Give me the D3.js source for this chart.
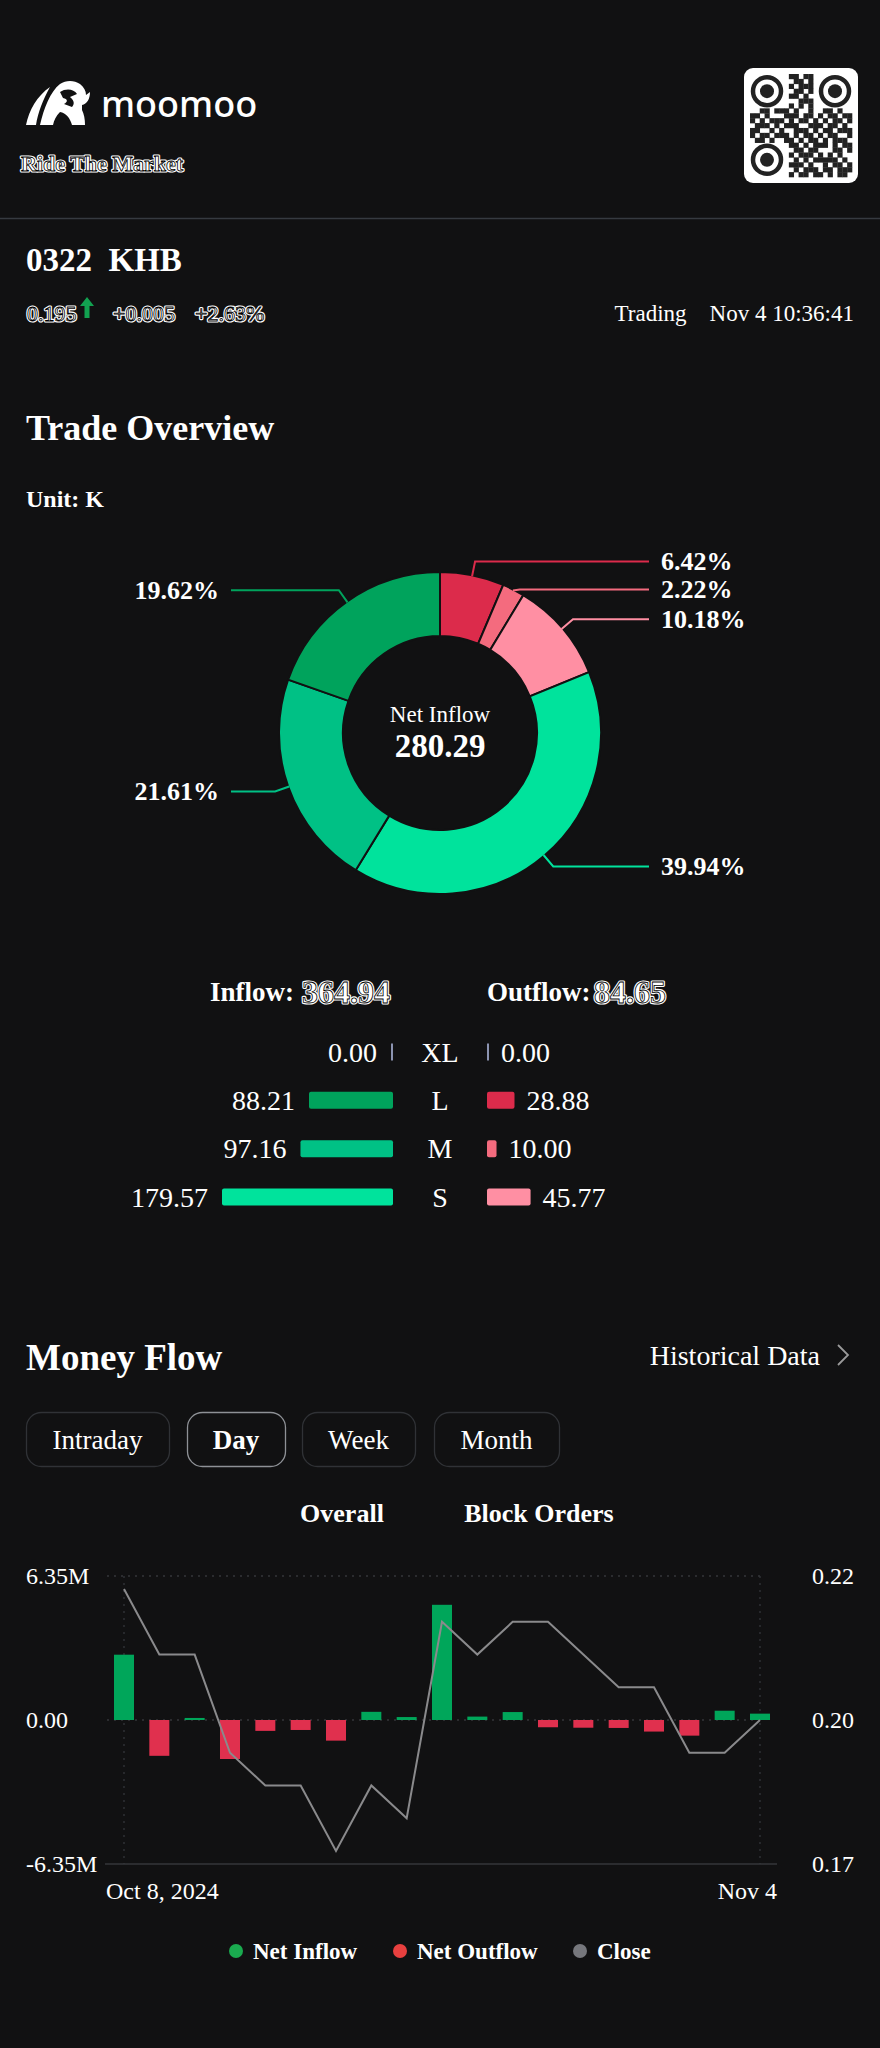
<!DOCTYPE html>
<html><head><meta charset="utf-8">
<script src="https://cdn.jsdelivr.net/npm/d3@7"></script>
<style>html,body{margin:0;padding:0;background:#111112;}svg{display:block}</style>
</head><body><svg id="c" width="880" height="2048"></svg>
<script>
// ---------------- data ----------------
const ticker = "0322  KHB";
const price = "0.195", change = "+0.005", changePct = "+2.63%";
const statusText = "Trading    Nov 4 10:36:41";
const sizes = ["XL", "L", "M", "S"];
const inflowValues = [0.00, 88.21, 97.16, 179.57];
const outflowValues = [0.00, 28.88, 10.00, 45.77];
const inflowTotal = "364.94", outflowTotal = "84.65", netInflow = "280.29";
const tabs = ["Intraday", "Day", "Week", "Month"];
const subTabs = ["Overall", "Block Orders"];
const dates = ["Oct 8, 2024","Oct 9","Oct 10","Oct 14","Oct 15","Oct 16","Oct 17","Oct 18","Oct 21","Oct 22","Oct 23","Oct 24","Oct 25","Oct 28","Oct 29","Oct 30","Oct 31","Nov 1","Nov 4"];
const netFlowM = [2.88,-1.58,0.09,-1.72,-0.48,-0.44,-0.91,0.36,0.13,5.08,0.15,0.35,-0.32,-0.34,-0.35,-0.51,-0.69,0.41,0.28];
const closes = [0.215,0.205,0.205,0.190,0.185,0.185,0.175,0.185,0.180,0.210,0.205,0.210,0.210,0.205,0.200,0.200,0.190,0.190,0.195];
const leftTickValues = [6.35, 0, -6.35];
const leftTickLabels = ["6.35M", "0.00", "-6.35M"];
const rightTickValues = [0.217, 0.195, 0.173];
const rightTickLabels = ["0.22", "0.20", "0.17"];
const xTickLabels = ["Oct 8, 2024", "Nov 4"];
const legendItems = ["Net Inflow", "Net Outflow", "Close"];

// ---------------- setup ----------------
const svg = d3.select("#c");
const SERIF = "'Liberation Serif', 'Times New Roman', serif";
const BG = "#111112";
svg.append("rect").attr("width", 880).attr("height", 2048).attr("fill", BG);

function txt(x, y, s, size, opts = {}) {
  return svg.append("text").attr("x", x).attr("y", y).text(s)
    .attr("font-family", opts.family || SERIF)
    .attr("font-size", size)
    .attr("font-weight", opts.weight || "normal")
    .attr("fill", opts.fill || "#fff")
    .attr("text-anchor", opts.anchor || "start")
    .attr("dominant-baseline", opts.baseline || "central");
}
function outlined(x, y, s, size, opts = {}) {
  txt(x, y, s, size, opts).attr("stroke", "#fff").attr("stroke-width", 3.2).attr("stroke-linejoin", "round");
  return txt(x, y, s, size, opts).attr("stroke", "#000").attr("stroke-width", 0.8);
}

// ---------------- header ----------------
const logo = svg.append("g").attr("fill", "#fff");
logo.append("path").attr("d", "M40 125 C44 108 50 92 60 84 C66 80 74 80 80 84 C84 87 86 91 86 95 L90 92 C90 99 87 104 82 105 L82 110 C84 114 85 119 85 125 L72 125 C70 118 66 113 60 112 C56 116 54 120 53 125 Z");
logo.append("path").attr("d", "M26 125 C29 110 37 96 50 87 C43 100 38 112 36 125 Z");
logo.append("path").attr("d", "M60 92 C66 88 74 89 77 94 L70 97 C74 100 75 104 72 107 L64 104 C68 102 68 99 63 98 Z").attr("fill", BG);
txt(101, 117, "moomoo", 36, { family: "'Noto Sans', Inter, sans-serif", weight: 500, baseline: "auto" });
outlined(21, 171, "Ride The Market", 22, { weight: "bold", baseline: "auto" });

// QR code
const qr = svg.append("g");
qr.append("rect").attr("x", 744).attr("y", 68).attr("width", 114).attr("height", 115).attr("rx", 9).attr("fill", "#fff");
const qrRows = [
  "000000001101100000000",
  "000000000110100000000",
  "000000001011100000000",
  "000000000110100000000",
  "000000001101000000000",
  "000000000011100000000",
  "000000001010100000000",
  "001101110100100110100",
  "110100011101101011011",
  "101011101011010101101",
  "011101011100111011010",
  "110010100111010110111",
  "101101110101101011001",
  "011010011010110101110",
  "000000001101011101011",
  "000000000110110001101",
  "000000001011101010100",
  "000000000101011111010",
  "000000001110100101101",
  "000000000101110110111",
  "000000001011011010110"
];
const qrX = d3.scaleBand().domain(d3.range(21)).range([750, 852]);
const qrY = d3.scaleBand().domain(d3.range(21)).range([74, 177]);
qrRows.forEach((row, r) => row.split("").forEach((b, c) => {
  if (b === "1") qr.append("rect").attr("x", qrX(c)).attr("y", qrY(r)).attr("width", qrX.bandwidth() + 0.3).attr("height", qrY.bandwidth() + 0.3).attr("fill", "#222");
}));
[[0, 0], [14, 0], [0, 14]].forEach(([c, r]) => {
  const cx = qrX(c) + qrX.bandwidth() * 3.5, cy = qrY(r) + qrY.bandwidth() * 3.5;
  qr.append("circle").attr("cx", cx).attr("cy", cy).attr("r", 14).attr("fill", "none").attr("stroke", "#222").attr("stroke-width", 4.5);
  qr.append("circle").attr("cx", cx).attr("cy", cy).attr("r", 7).attr("fill", "#222");
});

svg.append("line").attr("x1", 0).attr("x2", 880).attr("y1", 218.5).attr("y2", 218.5).attr("stroke", "#363a40").attr("stroke-width", 1.5);

txt(26, 271, ticker, 33, { weight: "bold", baseline: "auto" }).style("white-space", "pre");
outlined(27, 321, price, 22, { baseline: "auto" });
svg.append("path").attr("d", "M87 297 L94 306 L89.5 306 L89.5 318 L84.5 318 L84.5 306 L80 306 Z").attr("fill", "#12a150");
outlined(113, 321, change, 22, { baseline: "auto" });
outlined(195, 321, changePct, 22, { baseline: "auto" });
txt(854, 321, statusText, 23, { anchor: "end", baseline: "auto" }).style("white-space", "pre");

// ---------------- trade overview ----------------
txt(26, 440, "Trade Overview", 36, { weight: "bold", baseline: "auto" });
txt(26, 507, "Unit: K", 24, { weight: "bold", baseline: "auto" });

const outColors = { XL: "#8b93b0", L: "#dc2b4b", M: "#f46b7e", S: "#ff8fa3" };
const inColors = { XL: "#8b93b0", L: "#00a35c", M: "#00c185", S: "#00e39c" };
const slices = [];
sizes.forEach((s, i) => slices.push({ key: "out" + s, value: outflowValues[i], color: outColors[s] }));
sizes.slice().reverse().forEach((s) => { const i = sizes.indexOf(s); slices.push({ key: "in" + s, value: inflowValues[i], color: inColors[s] }); });
const nonZero = slices.filter(d => d.value > 0);
const total = d3.sum(nonZero, d => d.value);
const cx = 440, cy = 733, rOut = 161, rIn = 97;
const pie = d3.pie().sort(null).value(d => d.value);
const arcs = pie(nonZero);
const arcGen = d3.arc().innerRadius(rIn).outerRadius(rOut);
const pg = svg.append("g").attr("transform", `translate(${cx},${cy})`);
pg.selectAll("path").data(arcs).join("path").attr("d", arcGen)
  .attr("fill", d => d.data.color).attr("stroke", BG).attr("stroke-width", 2);

// labels with elbow lines
const labels = arcs.map(a => {
  const mid = (a.startAngle + a.endAngle) / 2;
  const right = Math.sin(mid) > 0;
  return {
    a, mid, right,
    x0: cx + (rOut - 1) * Math.sin(mid), y0: cy - (rOut - 1) * Math.cos(mid),
    x1: cx + 175 * Math.sin(mid), y1: cy - 175 * Math.cos(mid)
  };
});
[true, false].forEach(side => {
  const grp = labels.filter(l => l.right === side).sort((p, q) => p.y1 - q.y1);
  for (let i = 1; i < grp.length; i++) if (grp[i].y1 < grp[i - 1].y1 + 28) grp[i].y1 = grp[i - 1].y1 + 28;
});
labels.forEach(l => {
  const xEnd = l.right ? 649 : 231;
  svg.append("polyline").attr("points", [[l.x0, l.y0], [l.x1, l.y1], [xEnd, l.y1]].map(p => p.join(",")).join(" "))
    .attr("fill", "none").attr("stroke", l.a.data.color).attr("stroke-width", 2);
  txt(l.right ? 661 : 219, l.y1, (l.a.data.value / total * 100).toFixed(2) + "%", 26,
    { weight: "bold", anchor: l.right ? "start" : "end" });
});
txt(cx, 714, "Net Inflow", 23, { anchor: "middle" });
txt(cx, 746, netInflow, 33, { weight: "bold", anchor: "middle" });

// inflow / outflow breakdown
txt(294, 992, "Inflow:", 27, { weight: "bold", anchor: "end" });
outlined(302, 992, inflowTotal, 32, { weight: "bold" });
txt(487, 992, "Outflow:", 27, { weight: "bold" });
outlined(594, 992, outflowTotal, 32, { weight: "bold" });

const rowY = d3.scalePoint().domain(sizes).range([1052, 1197]);
const wScale = d3.scaleLinear().domain([0, d3.max(inflowValues.concat(outflowValues))]).range([0, 171]);
sizes.forEach((s, i) => {
  const y = rowY(s), h = 17;
  const wi = Math.max(2, wScale(inflowValues[i])), wo = Math.max(2, wScale(outflowValues[i]));
  const zeroIn = inflowValues[i] === 0, zeroOut = outflowValues[i] === 0;
  svg.append("rect").attr("x", 393 - wi).attr("y", y - h / 2).attr("width", wi).attr("height", h)
    .attr("rx", zeroIn ? 0 : 2).attr("fill", zeroIn ? "#8b93b0" : inColors[s]);
  svg.append("rect").attr("x", 487).attr("y", y - h / 2).attr("width", wo).attr("height", h)
    .attr("rx", zeroOut ? 0 : 2).attr("fill", zeroOut ? "#8b93b0" : outColors[s]);
  txt(393 - wi - 14, y, inflowValues[i].toFixed(2), 28, { anchor: "end" });
  txt(487 + wo + 12, y, outflowValues[i].toFixed(2), 28);
  txt(440, y, s, 28, { anchor: "middle" });
});

// ---------------- money flow ----------------
txt(26, 1357, "Money Flow", 37, { weight: "bold" });
txt(820, 1355, "Historical Data", 28, { anchor: "end" });
svg.append("polyline").attr("points", "838,1345 848,1355 838,1365").attr("fill", "none").attr("stroke", "#9a9a9a").attr("stroke-width", 1.8);

const tabX = [[26, 169], [187, 285], [302, 415], [434, 559]];
tabs.forEach((t, i) => {
  const [a, b] = tabX[i];
  svg.append("rect").attr("x", a + 0.5).attr("y", 1412.5).attr("width", b - a).attr("height", 54).attr("rx", 15)
    .attr("fill", BG).attr("stroke", t === "Day" ? "#8e9196" : "#303236").attr("stroke-width", 1.3);
  txt((a + b) / 2, 1440, t, 27, { anchor: "middle", weight: t === "Day" ? "bold" : "normal" });
});
txt(342, 1513, subTabs[0], 26, { weight: "bold", anchor: "middle" });
txt(539, 1513, subTabs[1], 26, { weight: "bold", anchor: "middle" });

// chart
const x = d3.scalePoint().domain(dates).range([124, 760]);
const yL = d3.scaleLinear().domain([-6.35, 6.35]).range([1864, 1576]);
const yR = d3.scaleLinear().domain([0.173, 0.217]).range([1864, 1576]);
const grid = svg.append("g").attr("stroke", "#34363a").attr("stroke-width", 1.3).attr("stroke-dasharray", "2,5");
grid.append("line").attr("x1", 107).attr("x2", 762).attr("y1", yL(6.35)).attr("y2", yL(6.35));
grid.append("line").attr("x1", 107).attr("x2", 762).attr("y1", yL(0)).attr("y2", yL(0));
xTickLabels.forEach(d => grid.append("line").attr("x1", x(d)).attr("x2", x(d)).attr("y1", yL(6.35)).attr("y2", yL(-6.35)));
svg.append("line").attr("x1", 105).attr("x2", 777).attr("y1", yL(-6.35)).attr("y2", yL(-6.35)).attr("stroke", "#34363a").attr("stroke-width", 1.5);

const bw = 20;
svg.append("g").selectAll("rect").data(dates).join("rect")
  .attr("x", d => x(d) - bw / 2)
  .attr("y", (d, i) => Math.min(yL(netFlowM[i]), yL(0)))
  .attr("width", bw)
  .attr("height", (d, i) => Math.max(1.5, Math.abs(yL(netFlowM[i]) - yL(0))))
  .attr("fill", (d, i) => netFlowM[i] >= 0 ? "#00a65a" : "#e0304e");

const line = d3.line().x((d, i) => x(dates[i])).y(d => yR(d));
svg.append("path").datum(closes).attr("d", line).attr("fill", "none").attr("stroke", "#8a8a8c").attr("stroke-width", 2);

leftTickValues.forEach((v, i) => txt(26, yL(v), leftTickLabels[i], 24));
rightTickValues.forEach((v, i) => txt(854, yR(v), rightTickLabels[i], 24, { anchor: "end" }));
txt(106, 1891, xTickLabels[0], 24);
txt(777, 1891, xTickLabels[1], 24, { anchor: "end" });

// legend
const legColors = ["#1aab4f", "#e8403f", "#76777c"];
const legX = [236, 400, 580];
legendItems.forEach((t, i) => {
  svg.append("circle").attr("cx", legX[i]).attr("cy", 1951).attr("r", 7).attr("fill", legColors[i]);
  txt(legX[i] + 17, 1951, t, 23, { weight: "bold" });
});
</script></body></html>
